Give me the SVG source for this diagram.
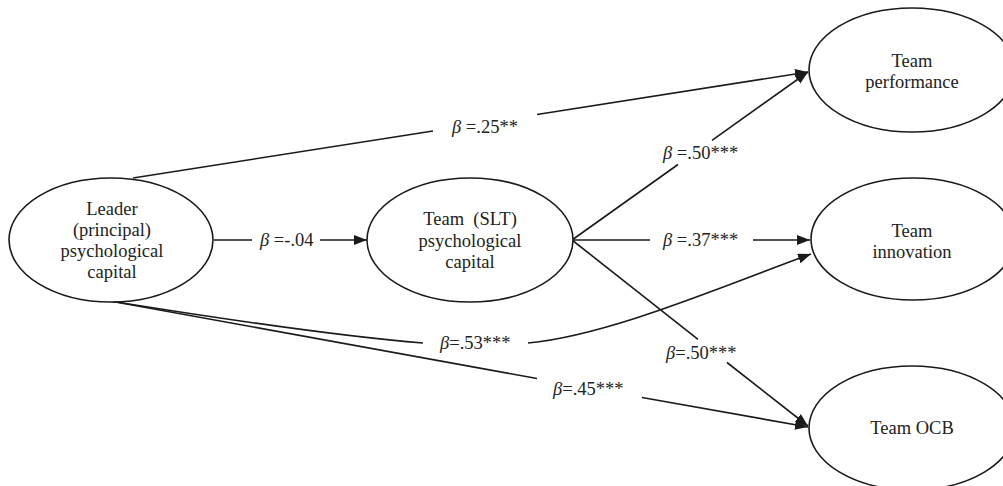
<svg xmlns="http://www.w3.org/2000/svg" width="1003" height="486" viewBox="0 0 1003 486" font-family="Liberation Serif, Times New Roman, serif">
<style>
text{font-size:18.5px;fill:#222}
.n{text-anchor:middle}
.b{font-style:italic}
ellipse{fill:#fff;stroke:#1a1a1a;stroke-width:1.6}
.c{fill:none;stroke:#1a1a1a;stroke-width:1.6}
</style>
<defs>
<marker id="ah" markerUnits="userSpaceOnUse" markerWidth="14" markerHeight="12" refX="13" refY="5" orient="auto">
<path d="M0,0 L13,5 L0,10 Z" fill="#1a1a1a"/>
</marker>
</defs>
<rect width="1003" height="486" fill="#fff"/>
<g id="connectors">
<line class="c" x1="133" y1="178" x2="433" y2="131"/>
<line class="c" x1="537" y1="114.5" x2="808" y2="72" marker-end="url(#ah)"/>
<line class="c" x1="214" y1="240" x2="252" y2="240"/>
<line class="c" x1="320" y1="240" x2="367" y2="240" marker-end="url(#ah)"/>
<line class="c" x1="572" y1="240" x2="678" y2="164.5"/>
<line class="c" x1="712" y1="140.3" x2="808" y2="72" marker-end="url(#ah)"/>
<line class="c" x1="572" y1="240" x2="650" y2="240"/>
<line class="c" x1="753" y1="240" x2="810" y2="240" marker-end="url(#ah)"/>
<line class="c" x1="572" y1="240" x2="698" y2="339.3"/>
<line class="c" x1="727" y1="362.5" x2="808" y2="426" marker-end="url(#ah)"/>
<path class="c" d="M110,301 Q322,335 423,343"/>
<path class="c" d="M528,343 C610,335 720,287 811,254" marker-end="url(#ah)"/>
<line class="c" x1="110" y1="301" x2="537" y2="378.5"/>
<line class="c" x1="642" y1="397.5" x2="808" y2="427" marker-end="url(#ah)"/>
<text x="452" y="133"><tspan class="b">β</tspan> =.25**</text>
<text x="260" y="246"><tspan class="b">β</tspan> =-.04</text>
<text x="663" y="159"><tspan class="b">β</tspan> =.50***</text>
<text x="663" y="246"><tspan class="b">β</tspan> =.37***</text>
<text x="440" y="349"><tspan class="b">β</tspan>=.53***</text>
<text x="666" y="359"><tspan class="b">β</tspan>=.50***</text>
<text x="553" y="395"><tspan class="b">β</tspan>=.45***</text>
</g>
<g id="leader">
<ellipse cx="111" cy="240" rx="102" ry="62"/>
<text class="n" x="112" y="215">Leader</text>
<text class="n" x="112" y="236">(principal)</text>
<text class="n" x="112" y="257">psychological</text>
<text class="n" x="112" y="278">capital</text>
</g>
<g id="team-slt">
<ellipse cx="470" cy="240" rx="103" ry="62"/>
<text class="n" x="470" y="225" xml:space="preserve">Team  (SLT)</text>
<text class="n" x="470" y="246.5">psychological</text>
<text class="n" x="470" y="268">capital</text>
</g>
<g id="team-performance">
<ellipse cx="912" cy="70" rx="103" ry="62"/>
<text class="n" x="912" y="67">Team</text>
<text class="n" x="912" y="88">performance</text>
</g>
<g id="team-innovation">
<ellipse cx="913" cy="239" rx="102" ry="61"/>
<text class="n" x="912" y="237">Team</text>
<text class="n" x="912" y="258">innovation</text>
</g>
<g id="team-ocb">
<ellipse cx="912" cy="428" rx="103" ry="62"/>
<text class="n" x="912" y="434">Team OCB</text>
</g>
</svg>
